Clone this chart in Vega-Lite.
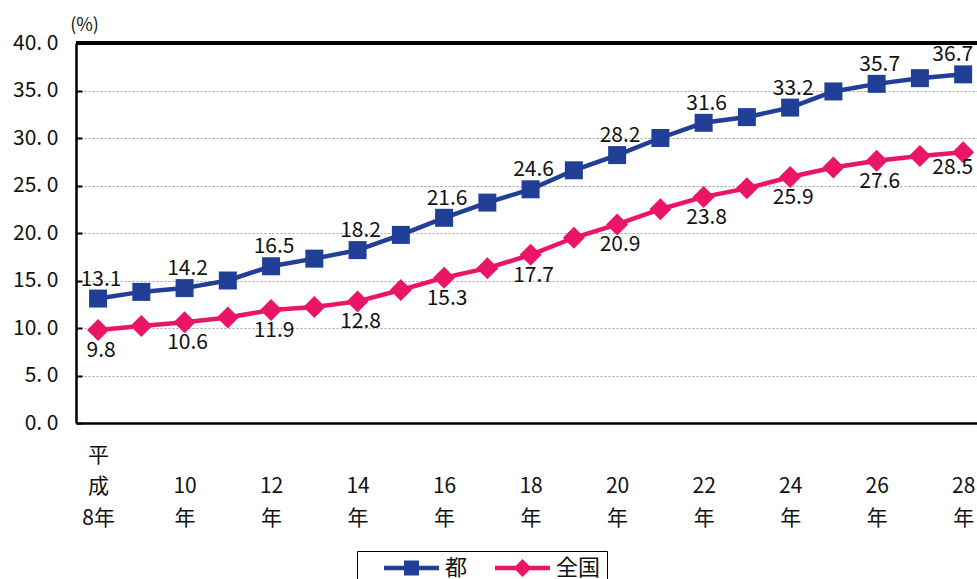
{
  "$schema": "https://vega.github.io/schema/vega-lite/v6.json",
  "width": 901,
  "height": 380,
  "autosize": {"type": "none"},
  "padding": {"left": 76, "top": 43, "right": 0, "bottom": 156},
  "background": "white",
  "config": {
    "view": {"stroke": null},
    "font": "Noto Sans CJK JP",
    "axis": {"domainColor": "black", "domainWidth": 2.5, "tickColor": "black", "tickWidth": 2, "labelColor": "#111", "labelFont": "Noto Sans CJK JP"}
  },
  "data": {
    "values": [
      {"year": 8, "s": "都", "v": 13.1}, {"year": 9, "s": "都", "v": 13.8}, {"year": 10, "s": "都", "v": 14.2},
      {"year": 11, "s": "都", "v": 15.0}, {"year": 12, "s": "都", "v": 16.5}, {"year": 13, "s": "都", "v": 17.3},
      {"year": 14, "s": "都", "v": 18.2}, {"year": 15, "s": "都", "v": 19.8}, {"year": 16, "s": "都", "v": 21.6},
      {"year": 17, "s": "都", "v": 23.2}, {"year": 18, "s": "都", "v": 24.6}, {"year": 19, "s": "都", "v": 26.6},
      {"year": 20, "s": "都", "v": 28.2}, {"year": 21, "s": "都", "v": 30.0}, {"year": 22, "s": "都", "v": 31.6},
      {"year": 23, "s": "都", "v": 32.2}, {"year": 24, "s": "都", "v": 33.2}, {"year": 25, "s": "都", "v": 34.9},
      {"year": 26, "s": "都", "v": 35.7}, {"year": 27, "s": "都", "v": 36.3}, {"year": 28, "s": "都", "v": 36.7},
      {"year": 8, "s": "全国", "v": 9.8}, {"year": 9, "s": "全国", "v": 10.2}, {"year": 10, "s": "全国", "v": 10.6},
      {"year": 11, "s": "全国", "v": 11.1}, {"year": 12, "s": "全国", "v": 11.9}, {"year": 13, "s": "全国", "v": 12.2},
      {"year": 14, "s": "全国", "v": 12.8}, {"year": 15, "s": "全国", "v": 14.0}, {"year": 16, "s": "全国", "v": 15.3},
      {"year": 17, "s": "全国", "v": 16.3}, {"year": 18, "s": "全国", "v": 17.7}, {"year": 19, "s": "全国", "v": 19.5},
      {"year": 20, "s": "全国", "v": 20.9}, {"year": 21, "s": "全国", "v": 22.5}, {"year": 22, "s": "全国", "v": 23.8},
      {"year": 23, "s": "全国", "v": 24.7}, {"year": 24, "s": "全国", "v": 25.9}, {"year": 25, "s": "全国", "v": 26.9},
      {"year": 26, "s": "全国", "v": 27.6}, {"year": 27, "s": "全国", "v": 28.1}, {"year": 28, "s": "全国", "v": 28.5}
    ]
  },
  "layer": [
    {"mark": {"type": "rule", "color": "black", "strokeWidth": 2.5}, "encoding": {"y": {"datum": 40, "type": "quantitative", "scale": {"domain": [0, 40], "nice": false}}}},
    {
      "mark": {"type": "line", "strokeWidth": 4.5},
      "encoding": {
        "x": {
          "field": "year", "type": "quantitative",
          "scale": {"domain": [7.49, 28.32], "nice": false, "zero": false},
          "axis": {
            "title": null, "grid": false,
            "values": [8, 8.5, 9, 9.5, 10, 10.5, 11, 11.5, 12, 12.5, 13, 13.5, 14, 14.5, 15, 15.5, 16, 16.5, 17, 17.5, 18, 18.5, 19, 19.5, 20, 20.5, 21, 21.5, 22, 22.5, 23, 23.5, 24, 24.5, 25, 25.5, 26, 26.5, 27, 27.5, 28],
            "labelExpr": "datum.value == 8 ? ['平', '成', '8年'] : (datum.value % 2 == 0 ? ['', '' + datum.value, '年'] : '')",
            "tickOpacity": {"condition": {"test": "datum.value % 1 != 0", "value": 1}, "value": 0},
            "tickSize": -6,
            "labelFontSize": 21,
            "labelLineHeight": 31.5,
            "labelPadding": 27,
            "labelOverlap": false,
            "labelFlush": false,
            "labelBound": false
          }
        },
        "y": {
          "field": "v", "type": "quantitative",
          "axis": {
            "values": [0, 5, 10, 15, 20, 25, 30, 35, 40],
            "labelExpr": "replace(format(datum.value, '.1f'), '.', '. ')",
            "labelFontSize": 21,
            "tickSize": -6,
            "labelPadding": 24,
            "grid": true, "gridColor": "#a0a0a0", "gridDash": [2, 2], "gridWidth": 1,
            "title": "(%)", "titleAngle": 0, "titleX": 8, "titleY": -18, "titleFontSize": 18,
            "titleFontWeight": "normal", "titleAlign": "center", "titleBaseline": "middle", "titleColor": "#111"
          }
        },
        "color": {
          "field": "s", "type": "nominal",
          "scale": {"domain": ["都", "全国"], "range": ["#223F98", "#EA1567"]},
          "legend": {
            "orient": "none", "legendX": 281, "legendY": 508, "direction": "horizontal", "title": null,
            "strokeColor": "black", "fillColor": "white", "padding": 6,
            "labelFontSize": 22, "labelColor": "#111", "labelOffset": 60, "columnPadding": 6,
            "symbolSize": 400, "symbolStrokeWidth": 0,
            "encode": {
              "symbols": {
                "update": {
                  "shape": {"signal": "datum.value == '都' ? 'M1,-0.22H6.5V0.22H1Z M3,-0.75H4.5V0.75H3Z' : 'M1,-0.22H6.5V0.22H1Z M3.75,-0.9L4.65,0L3.75,0.9L2.85,0Z'"},
                  "fill": {"signal": "datum.value == '都' ? '#223F98' : '#EA1567'"}
                }
              }
            }
          }
        }
      }
    },
    {
      "transform": [{"filter": "datum.s == '都'"}],
      "mark": {"type": "point", "shape": "square", "filled": true, "size": 324, "opacity": 1, "color": "#223F98"},
      "encoding": {"x": {"field": "year", "type": "quantitative"}, "y": {"field": "v", "type": "quantitative"}}
    },
    {
      "transform": [{"filter": "datum.s == '全国'"}],
      "mark": {"type": "point", "shape": "diamond", "filled": true, "size": 484, "opacity": 1, "color": "#EA1567"},
      "encoding": {"x": {"field": "year", "type": "quantitative"}, "y": {"field": "v", "type": "quantitative"}}
    },
    {
      "transform": [{"filter": "datum.s == '都' && datum.year % 2 == 0 && datum.year < 28"}],
      "mark": {"type": "text", "dy": -19, "dx": 3, "fontSize": 21, "color": "#111"},
      "encoding": {"x": {"field": "year", "type": "quantitative"}, "y": {"field": "v", "type": "quantitative"}, "text": {"field": "v", "type": "quantitative", "format": ".1f"}}
    },
    {
      "transform": [{"filter": "datum.s == '全国' && datum.year % 2 == 0 && datum.year < 28"}],
      "mark": {"type": "text", "dy": 21, "dx": 3, "fontSize": 21, "color": "#111"},
      "encoding": {"x": {"field": "year", "type": "quantitative"}, "y": {"field": "v", "type": "quantitative"}, "text": {"field": "v", "type": "quantitative", "format": ".1f"}}
    },
    {
      "transform": [{"filter": "datum.s == '都' && datum.year == 28"}],
      "mark": {"type": "text", "dy": -19, "dx": 10, "align": "right", "fontSize": 21, "color": "#111"},
      "encoding": {"x": {"field": "year", "type": "quantitative"}, "y": {"field": "v", "type": "quantitative"}, "text": {"field": "v", "type": "quantitative", "format": ".1f"}}
    },
    {
      "transform": [{"filter": "datum.s == '全国' && datum.year == 28"}],
      "mark": {"type": "text", "dy": 16, "dx": 10, "align": "right", "fontSize": 21, "color": "#111"},
      "encoding": {"x": {"field": "year", "type": "quantitative"}, "y": {"field": "v", "type": "quantitative"}, "text": {"field": "v", "type": "quantitative", "format": ".1f"}}
    }
  ]
}
